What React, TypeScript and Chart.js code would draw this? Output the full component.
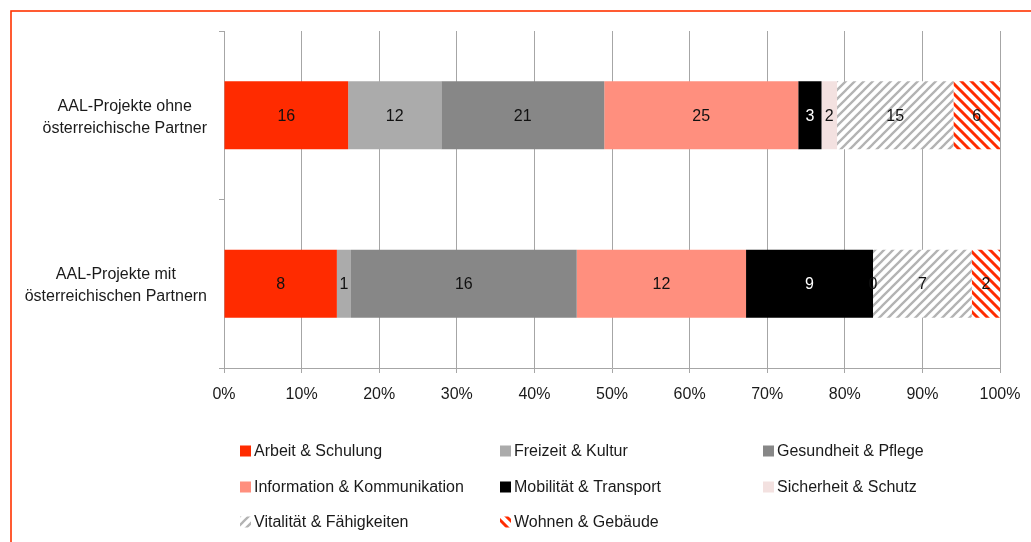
import React, { useEffect, useRef } from 'react';
import { Chart, registerables } from 'chart.js';
Chart.register(...registerables);

const categories: string[][] = [
  ['AAL-Projekte ohne', 'österreichische Partner'],
  ['AAL-Projekte mit', 'österreichischen Partnern'],
];
const seriesNames = [
  'Arbeit & Schulung',
  'Freizeit & Kultur',
  'Gesundheit & Pflege',
  'Information & Kommunikation',
  'Mobilität & Transport',
  'Sicherheit & Schutz',
  'Vitalität & Fähigkeiten',
  'Wohnen & Gebäude',
];
const ohneValues = [16, 12, 21, 25, 3, 2, 15, 6];
const mitValues = [8, 1, 16, 12, 9, 0, 7, 2];
const xTickValues = [0, 10, 20, 30, 40, 50, 60, 70, 80, 90, 100];

const seriesColors = ['#ff2b00', '#ababab', '#878787', '#ff8f7e', '#000000', '#f3e1e0', 'hatch-grey', 'hatch-red'];
const labelColors = ['#111', '#111', '#111', '#111', '#ffffff', '#111', '#111', '#111'];

const FONT = "'Liberation Sans', Arial, sans-serif";
const GRID = '#a6a6a6';

function makeHatch(color: string, forward: boolean, lw: number, s: number): CanvasPattern | string {
  const c = document.createElement('canvas');
  c.width = s;
  c.height = s;
  const ctx = c.getContext('2d');
  if (!ctx) return color;
  ctx.fillStyle = '#ffffff';
  ctx.fillRect(0, 0, s, s);
  ctx.strokeStyle = color;
  ctx.lineWidth = lw;
  ctx.lineCap = 'square';
  ctx.beginPath();
  if (forward) {
    ctx.moveTo(-1, 1); ctx.lineTo(1, -1);
    ctx.moveTo(0, s); ctx.lineTo(s, 0);
    ctx.moveTo(s - 1, s + 1); ctx.lineTo(s + 1, s - 1);
  } else {
    ctx.moveTo(-1, s - 1); ctx.lineTo(1, s + 1);
    ctx.moveTo(0, 0); ctx.lineTo(s, s);
    ctx.moveTo(s - 1, -1); ctx.lineTo(s + 1, 1);
  }
  ctx.stroke();
  const p = ctx.createPattern(c, 'repeat');
  return p || color;
}

export default function App() {
  const ref = useRef<HTMLCanvasElement | null>(null);

  useEffect(() => {
    if (!ref.current) return;
    const sumOhne = ohneValues.reduce((a, b) => a + b, 0);
    const sumMit = mitValues.reduce((a, b) => a + b, 0);
    const fills = seriesColors.map((c) =>
      c === 'hatch-grey' ? makeHatch('#b3b3b3', true, 2.3, 9) : c === 'hatch-red' ? makeHatch('#ff2b00', false, 3, 10) : c
    );

    const datasets = seriesNames.map((name, i) => ({
      label: name,
      data: [(ohneValues[i] / sumOhne) * 100, (mitValues[i] / sumMit) * 100],
      raw: [ohneValues[i], mitValues[i]],
      backgroundColor: fills[i] as any,
      borderWidth: 0,
      categoryPercentage: 1,
      barPercentage: 0.405,
    }));

    const customPlugin = {
      id: 'custom',
      afterDatasetsDraw(chart: any) {
        const ctx = chart.ctx;
        ctx.save();
        ctx.font = `16px ${FONT}`;
        ctx.textAlign = 'center';
        ctx.textBaseline = 'middle';
        chart.data.datasets.forEach((ds: any, di: number) => {
          const meta = chart.getDatasetMeta(di);
          meta.data.forEach((el: any, j: number) => {
            const p = el.getCenterPoint();
            ctx.fillStyle = labelColors[di];
            ctx.fillText(String(ds.raw[j]), p.x, p.y + 1);
          });
        });
        ctx.restore();
      },
      afterDraw(chart: any) {
        const ctx = chart.ctx;
        ctx.save();
        // frame
        ctx.strokeStyle = '#ff3300';
        ctx.lineWidth = 1.6;
        ctx.strokeRect(11, 11, 1200, 800);
        // category labels
        const yScale = chart.scales.y;
        const right = chart.chartArea.left - 17;
        ctx.font = `16px ${FONT}`;
        ctx.fillStyle = '#1a1a1a';
        ctx.textAlign = 'center';
        ctx.textBaseline = 'middle';
        categories.forEach((lines, i) => {
          const yc = yScale.getPixelForValue(i) + 2;
          const w = Math.max(...lines.map((l) => ctx.measureText(l).width));
          const cx = right - w / 2;
          const lh = 22;
          lines.forEach((l, k) => {
            ctx.fillText(l, cx, yc + (k - (lines.length - 1) / 2) * lh);
          });
        });
        // legend
        const colX = [240, 500, 763];
        const rowY = [451, 487, 522];
        ctx.textAlign = 'left';
        chart.data.datasets.forEach((ds: any, i: number) => {
          const col = i % 3;
          const row = Math.floor(i / 3);
          const x = colX[col];
          const y = rowY[row];
          ctx.fillStyle = ds.backgroundColor;
          ctx.fillRect(x, y - 5.5, 11, 11);
          ctx.fillStyle = '#1a1a1a';
          ctx.fillText(ds.label, x + 14, y + 1);
        });
        ctx.restore();
      },
    };

    const chart = new Chart(ref.current, {
      type: 'bar',
      data: { labels: categories.map((c) => c.join(' ')), datasets: datasets as any },
      options: {
        indexAxis: 'y',
        animation: false,
        responsive: false,
        maintainAspectRatio: false,
        layout: { padding: { left: 0, right: 31, top: 31, bottom: 134 } },
        plugins: { legend: { display: false }, tooltip: { enabled: false } },
        scales: {
          x: {
            stacked: true,
            min: 0,
            max: 100,
            afterBuildTicks: (scale: any) => {
              scale.ticks = xTickValues.map((v) => ({ value: v }));
            },
            ticks: {
              callback: (v: any) => `${v}%`,
              font: { size: 16, family: FONT },
              color: '#1a1a1a',
              padding: 12,
              maxRotation: 0,
            },
            grid: { color: GRID, lineWidth: 1, tickLength: 5, drawTicks: true },
            border: { color: GRID, width: 1 },
            afterFit: (s: any) => {
              s.height = 40;
              s.paddingLeft = 0;
              s.paddingRight = 0;
            },
          },
          y: {
            stacked: true,
            ticks: { display: false },
            grid: { offset: true, drawOnChartArea: false, color: GRID, tickLength: 5 },
            border: { color: GRID, width: 1 },
            afterFit: (s: any) => {
              s.width = 224;
            },
          },
        },
      },
      plugins: [customPlugin],
    });
    return () => chart.destroy();
  }, []);

  return (
    <div style={{ position: 'fixed', left: 0, top: 0, width: 1031, height: 542, background: '#fff', overflow: 'hidden' }}>
      <canvas ref={ref} width={1031} height={542} style={{ display: 'block' }} />
    </div>
  );
}
